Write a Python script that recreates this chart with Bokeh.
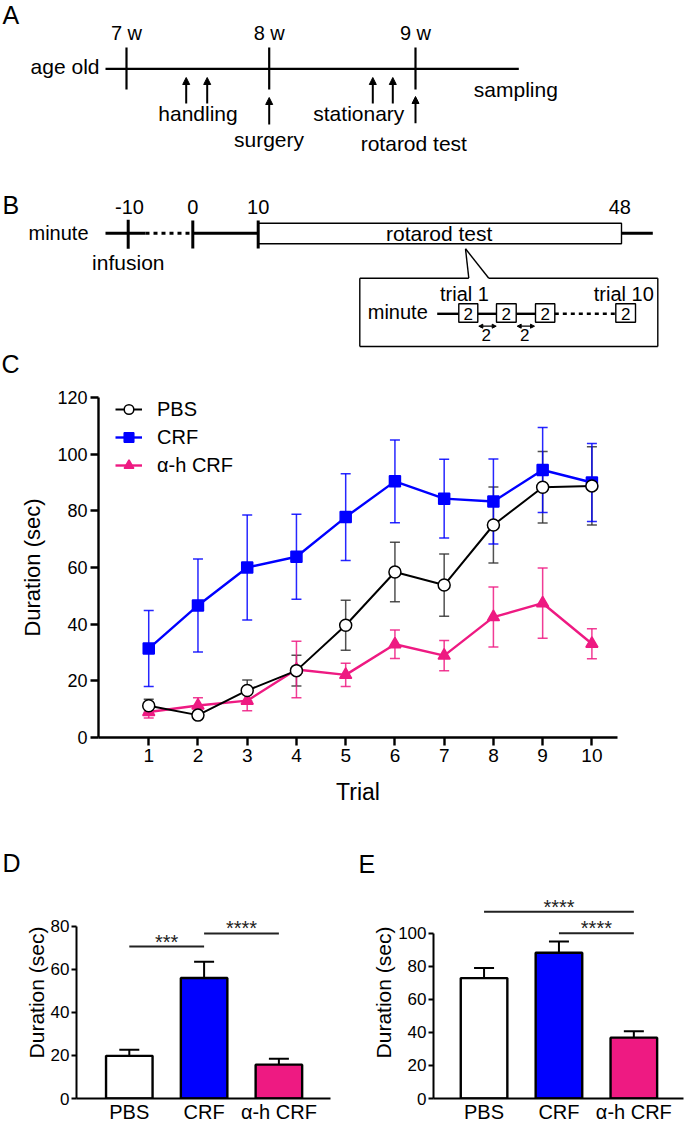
import math
from bokeh.plotting import figure
from bokeh.models import (Range1d, FixedTicker, Whisker, TeeHead, Legend, LegendItem,
                          Title, Arrow, NormalHead, ColumnDataSource)
from bokeh.layouts import row
from bokeh.embed import file_html
from bokeh.resources import INLINE
from bokeh.core.properties import value

FONT = "Liberation Sans"
BLUE = "#0000FF"
PINK = "#EE1A82"

# ---------------- data ----------------
trials = [1, 2, 3, 4, 5, 6, 7, 8, 9, 10]
pbs_mean = [11.2, 7.9, 16.6, 23.6, 39.6, 58.4, 53.8, 75.0, 88.3, 88.8]
pbs_sem = [2.3, 1.0, 3.7, 5.4, 8.8, 10.5, 11.0, 13.4, 12.6, 13.8]
crf_mean = [31.4, 46.6, 60.0, 63.8, 77.8, 90.4, 84.3, 83.3, 94.4, 90.0]
crf_sem = [13.4, 16.4, 18.5, 15.0, 15.3, 14.6, 13.9, 15.0, 15.0, 13.8]
ahcrf_mean = [9.0, 11.3, 13.0, 24.0, 22.1, 32.9, 28.9, 42.5, 47.4, 33.1]
ahcrf_sem = [2.1, 2.7, 3.6, 10.0, 4.1, 5.0, 5.3, 10.6, 12.4, 5.3]

groups = ["PBS", "CRF", "α-h CRF"]
d_mean = [19.8, 55.9, 15.7]
d_sem = [2.8, 7.6, 2.8]
e_mean = [72.8, 88.1, 36.8]
e_sem = [6.1, 6.9, 3.8]
d_sig = [(1, 2, "***", 70.5), (2, 3, "****", 76.6)]
e_sig = [(1, 3, "****", 112.9), (2, 3, "****", 100.0)]

week_labels = ["7 w", "8 w", "9 w"]
minute_labels = ["-10", "0", "10", "48"]
events_a = ["handling", "stationary", "surgery", "rotarod test", "sampling"]

# SVG text baseline correction (alphabetic baseline renders ~0.35 em low)
BASE_K = 0.35


def txt(p, x, y, t, size, align="center", color="black", font=FONT):
    p.text(x=[x], y=[y - BASE_K * size], text=[t], text_font=value(font),
           text_font_size=value(f"{size}px"), text_align=align, text_baseline="alphabetic",
           text_color=color)


def canvas(w, y0, y1):
    p = figure(width=w, height=y1 - y0, x_range=Range1d(0, w), y_range=Range1d(y1, y0),
               x_axis_location=None, y_axis_location=None, toolbar_location=None,
               title_location=None, output_backend="svg", min_border=0,
               outline_line_color=None)
    p.xgrid.visible = False
    p.ygrid.visible = False
    return p


# ---------------- panels A & B (schematic, page-pixel coordinates) ----------------
ab = canvas(685, 0, 380)

txt(ab, 2, 23, "A", 25, align="left")
txt(ab, 2, 213, "B", 25, align="left")
txt(ab, 1, 372, "C", 25, align="left")

# ---- A
week_x = [126, 268.7, 415]
ab.segment(x0=[105], y0=[68.3], x1=[518.3], y1=[68.3], line_width=2.2, line_color="black")
ab.segment(x0=week_x, y0=[47] * 3, x1=week_x, y1=[89] * 3, line_width=2.2, line_color="black")
for wx, wl in zip(week_x, week_labels):
    txt(ab, wx, 39.5, wl, 20)
txt(ab, 99, 73.5, "age old", 21, align="right")

arr_src = ColumnDataSource(dict(
    x0=[185.7, 206.7, 372.3, 392.3, 268.7, 415],
    y0=[103, 103, 103, 103, 124, 122.7],
    x1=[185.7, 206.7, 372.3, 392.3, 268.7, 415],
    y1=[77, 77, 77, 77, 97, 96]))
ab.add_layout(Arrow(end=NormalHead(size=7, fill_color="black", line_color="black", line_width=1),
                    x_start="x0", y_start="y0", x_end="x1", y_end="y1", source=arr_src,
                    line_width=2, line_color="black"))
txt(ab, 197.5, 120.7, events_a[0], 21)
txt(ab, 358.3, 120.7, events_a[1], 21)
txt(ab, 268.5, 146, events_a[2], 21)
txt(ab, 413.3, 150, events_a[3], 21)
txt(ab, 473.3, 96, events_a[4], 21, align="left")

# ---- B
ty = 232.7
ab.segment(x0=[105, 192.3, 621], y0=[ty] * 3, x1=[145, 257.7, 652.3], y1=[ty] * 3,
           line_width=3, line_color="black")
ab.segment(x0=[145], y0=[ty], x1=[192.3], y1=[ty], line_width=3, line_color="black",
           line_dash="4 4")
ab.quad(left=[257.7], right=[621], top=[222.7], bottom=[243.3], fill_color="white",
        line_color="black", line_width=1.4)
mx = [127.7, 192.3, 257.7]
ab.segment(x0=mx, y0=[219.3, 220, 220], x1=mx, y1=[248.3, 248, 248], line_width=3, line_color="black")
for xx, ml in zip([129, 192.3, 257.7, 619.3], minute_labels):
    txt(ab, xx, 213.3, ml, 20)
txt(ab, 88, 239.3, "minute", 20, align="right")
txt(ab, 127.8, 269.3, "infusion", 21)
txt(ab, 438.7, 240.5, "rotarod test", 21)

# callout + inset box
ab.segment(x0=[465, 465, 359.3, 488.3, 657.3, 359.3, 359.3],
           y0=[248.3, 248.3, 277.7, 277.7, 277.7, 346, 277.7],
           x1=[468.3, 488.3, 468.3, 657.3, 657.3, 657.3, 359.3],
           y1=[277.7, 277.7, 277.7, 277.7, 346, 346, 346],
           line_width=1.4, line_color="black")
iy = 313.3
ab.segment(x0=[436.7, 477.3, 515.7], y0=[iy] * 3, x1=[458.3, 496, 535], y1=[iy] * 3,
           line_width=2.4, line_color="black")
ab.segment(x0=[554.3], y0=[iy], x1=[615.3], y1=[iy], line_width=2.4, line_color="black",
           line_dash="4 4")
bl = [458.3, 496, 535, 615.3]
br = [477.3, 515.7, 554.3, 635]
ab.quad(left=bl, right=br, top=[303.3] * 4, bottom=[321.7] * 4, fill_color="white",
        line_color="black", line_width=1.4)
for l_, r_ in zip(bl, br):
    txt(ab, (l_ + r_) / 2, 319.3, "2", 17)
txt(ab, 427.3, 318.3, "minute", 20, align="right")
txt(ab, 464, 300, "trial 1", 20)
txt(ab, 623.3, 300, "trial 10", 20)
darr = ColumnDataSource(dict(x0=[478.3, 516.7], x1=[495.7, 534], y=[325.7, 325.7]))
ab.add_layout(Arrow(start=NormalHead(size=4, fill_color="black", line_color="black"),
                    end=NormalHead(size=4, fill_color="black", line_color="black"),
                    x_start="x0", y_start="y", x_end="x1", y_end="y", source=darr,
                    line_width=1.2, line_color="black"))
txt(ab, 485.7, 340.7, "2", 17)
txt(ab, 524.3, 340.7, "2", 17)


# ---------------- panel C ----------------
def style_axes(p, lw=2.4):
    for ax in p.axis:
        ax.axis_line_width = lw
        ax.axis_line_color = "black"
        ax.major_tick_line_width = lw
        ax.major_tick_line_color = "black"
        ax.minor_tick_line_color = None
        ax.major_tick_in = 0
        ax.major_label_text_font = FONT
        ax.axis_label_text_font = FONT
        ax.axis_label_text_font_style = "normal"
        ax.major_label_text_color = "black"
        ax.axis_label_text_color = "black"
    p.xgrid.visible = False
    p.ygrid.visible = False
    p.outline_line_color = None


pc = figure(width=685, height=460, x_range=Range1d(-0.02, 10.52), y_range=Range1d(0, 120),
            toolbar_location=None, output_backend="svg", title_location=None,
            min_border_left=98, min_border_right=68, min_border_top=17, min_border_bottom=103)
style_axes(pc)
pc.xaxis.ticker = FixedTicker(ticks=trials)
pc.yaxis.ticker = FixedTicker(ticks=[0, 20, 40, 60, 80, 100, 120])
pc.xaxis.major_tick_out = 8
pc.yaxis.major_tick_out = 8
pc.xaxis.major_label_text_font_size = "19px"
pc.yaxis.major_label_text_font_size = "18px"
pc.xaxis.major_label_standoff = 3
pc.yaxis.major_label_standoff = 3
pc.xaxis.axis_label = "Trial"
pc.yaxis.axis_label = "Duration (sec)"
pc.xaxis.axis_label_text_font_size = "23px"
pc.yaxis.axis_label_text_font_size = "22px"
pc.xaxis.axis_label_standoff = 14
pc.yaxis.axis_label_standoff = 9

series = [
    ("PBS", pbs_mean, pbs_sem, "black", "#333333", "circle", 12, "white", 2.0),
    ("CRF", crf_mean, crf_sem, BLUE, BLUE, "square", 11, BLUE, 2.4),
    ("α-h CRF", ahcrf_mean, ahcrf_sem, PINK, PINK, "triangle", 12, PINK, 2.4),
]
items = []
for name, m, s, col, ecol, mk, sz, fill, lw in series:
    src = ColumnDataSource(dict(x=trials, m=m, u=[a + b for a, b in zip(m, s)],
                                l=[a - b for a, b in zip(m, s)]))
    pc.add_layout(Whisker(base="x", upper="u", lower="l", source=src, line_color=ecol,
                          line_width=1.5, line_alpha=0.85,
                          upper_head=TeeHead(size=10, line_color=ecol, line_width=1.5, line_alpha=0.85),
                          lower_head=TeeHead(size=10, line_color=ecol, line_width=1.5, line_alpha=0.85)))
for name, m, s, col, ecol, mk, sz, fill, lw in series[::-1]:
    src = ColumnDataSource(dict(x=trials, m=m))
    lr = pc.line("x", "m", source=src, line_color=col, line_width=lw)
    sr = pc.scatter("x", "m", source=src, marker=mk, size=sz, fill_color=fill,
                    line_color=col, line_width=1.5)
    items.insert(0, LegendItem(label=name, renderers=[lr, sr]))

leg = Legend(items=items, location=(17, 260), margin=0, padding=0, spacing=4,
             glyph_width=27, glyph_height=24, label_height=24, label_standoff=15,
             label_text_font=FONT, label_text_font_size="20px", label_text_color="black",
             border_line_color=None, background_fill_alpha=0)
pc.add_layout(leg)

# ---------------- strip with panel letters D and E ----------------
strip = canvas(685, 840, 880)
txt(strip, 2, 871.7, "D", 25, align="left")
txt(strip, 358, 872, "E", 25, align="left")


# ---------------- panels D & E ----------------
def bar_panel(width, xr, yr, bounds, ticks, means, sems, sig, borders, title_shift,
              title_standoff):
    p = figure(width=width, height=246, x_range=Range1d(*xr), y_range=Range1d(*yr),
               toolbar_location=None, output_backend="svg", title_location=None,
               min_border_left=borders[0], min_border_right=borders[1],
               min_border_top=6, min_border_bottom=28)
    style_axes(p, lw=2.0)
    p.yaxis.bounds = bounds
    p.yaxis.ticker = FixedTicker(ticks=ticks)
    p.yaxis.major_tick_out = 5
    p.yaxis.major_label_standoff = 2
    p.yaxis.major_label_text_font_size = "17px"
    p.xaxis.ticker = FixedTicker(ticks=[1, 2, 3])
    p.xaxis.major_label_overrides = {1: groups[0], 2: groups[1], 3: groups[2]}
    p.xaxis.major_tick_out = 0
    p.xaxis.major_label_standoff = 2
    p.xaxis.major_label_text_font_size = "20px"
    xs = [1, 2, 3]
    p.vbar(x=xs, width=0.622, top=means, bottom=0, fill_color=["white", BLUE, PINK],
           line_color="black", line_width=2.4)
    wsrc = ColumnDataSource(dict(x=xs, l=means, u=[a + b for a, b in zip(means, sems)]))
    p.add_layout(Whisker(base="x", upper="u", lower="l", source=wsrc, line_color="black",
                         line_width=2, level="overlay",
                         upper_head=TeeHead(size=20, line_color="black", line_width=2),
                         lower_head=None))
    for a, b, star, lvl in sig:
        p.segment(x0=[a], y0=[lvl], x1=[b], y1=[lvl], line_color="#222222", line_width=2)
        p.text(x=[(a + b) / 2], y=[lvl], text=[star], text_font=value(FONT),
               text_font_size=value("20px"), text_align="center", text_baseline="alphabetic",
               y_offset=2 - BASE_K * 20, text_color="#222222")
    p.add_layout(Title(text="Duration (sec)", align="center", offset=title_shift,
                       standoff=title_standoff, text_font=FONT, text_font_size="21px",
                       text_font_style="normal", text_color="black"), "left")
    return p


# both frames span page y 886 .. 1098 (the row aligns them)
pd_ = bar_panel(340, (0.294, 3.69), (0, 98.4), (0, 80), [0, 20, 40, 60, 80], d_mean, d_sem,
                d_sig, (76, 10), -8, 0)
pe_ = bar_panel(345, (0.325, 3.663), (0, 128.2), (0, 100), [0, 20, 40, 60, 80, 100], e_mean,
                e_sem, e_sig, (93, 2), -21, 2)

open("out.html", "w").write(file_html([ab, pc, strip, row(pd_, pe_)], INLINE))
